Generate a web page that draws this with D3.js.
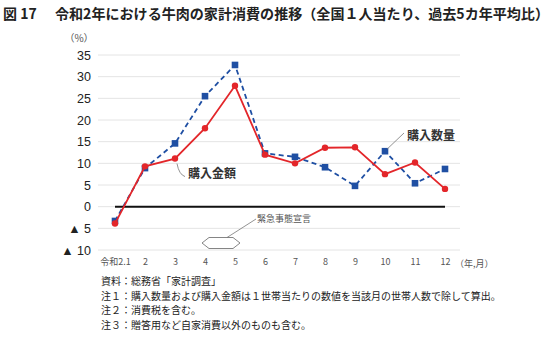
<!DOCTYPE html>
<html>
<head>
<meta charset="utf-8">
<script src="https://cdn.jsdelivr.net/npm/d3@7"></script>
<style>
  html, body { margin: 0; padding: 0; background: #fff; }
  svg { display: block; }
</style>
</head>
<body>
<svg id="chart" width="558" height="337"></svg>
<script>
// 月（令和2年）
const months = ["令和2.1", "2", "3", "4", "5", "6", "7", "8", "9", "10", "11", "12"];
// 購入数量（過去5カ年平均比、%）
const quantity = [-3.3, 8.9, 14.6, 25.5, 32.7, 12.3, 11.5, 9.1, 4.8, 12.8, 5.4, 8.7];
// 購入金額（過去5カ年平均比、%）
const amount = [-3.9, 9.3, 11.1, 18.1, 27.9, 12.0, 10.0, 13.6, 13.7, 7.5, 10.2, 4.1];
// 縦軸の目盛
const yTicks = [-10, -5, 0, 5, 10, 15, 20, 25, 30, 35];
const notes = [
  "資料：総務省「家計調査」",
  "注１：購入数量および購入金額は１世帯当たりの数値を当該月の世帯人数で除して算出。",
  "注２：消費税を含む。",
  "注３：贈答用など自家消費以外のものも含む。"
];

const JP = "'Noto Sans CJK JP', 'Noto Sans', sans-serif";
const NUM = "'Liberation Sans', Arial, sans-serif";
const BLUE = "#1f4fa3";
const RED = "#e3262a";

const svg = d3.select("#chart");

const x = d3.scalePoint().domain(months).range([115, 445]);
const y = d3.scaleLinear().domain([-10, 35]).range([250, 55]);

// タイトル
svg.append("text")
  .attr("x", 3).attr("y", 19)
  .attr("font-family", JP).attr("font-size", 14).attr("font-weight", "bold")
  .attr("fill", "#222")
  .text("図 17");
svg.append("text")
  .attr("x", 55).attr("y", 19)
  .attr("font-family", JP).attr("font-size", 14).attr("font-weight", "bold")
  .attr("fill", "#222")
  .attr("textLength", 494).attr("lengthAdjust", "spacingAndGlyphs")
  .text("令和2年における牛肉の家計消費の推移（全国１人当たり、過去5カ年平均比）");

// 目盛線
svg.append("g").selectAll("line")
  .data(yTicks)
  .join("line")
  .attr("x1", 98).attr("x2", 460)
  .attr("y1", d => y(d)).attr("y2", d => y(d))
  .attr("stroke", "#e4e4e4").attr("stroke-width", 1);

// 縦軸ラベル
const yAxis = d3.axisLeft(y).tickValues(yTicks).tickSize(0).tickPadding(0)
  .tickFormat(d => d < 0 ? "▲ " + (-d) : String(d));
const gy = svg.append("g").attr("transform", "translate(91,0)").call(yAxis);
gy.select(".domain").remove();
gy.selectAll("text")
  .attr("font-family", NUM).attr("font-size", 12.5).attr("fill", "#222");

svg.append("text")
  .attr("x", 79).attr("y", 42)
  .attr("text-anchor", "middle")
  .attr("font-family", JP).attr("font-size", 10).attr("fill", "#555")
  .text("（%）");

// 横軸ラベル
const xAxis = d3.axisBottom(x).tickSize(0).tickPadding(0);
const gx = svg.append("g").attr("transform", "translate(0,259)").call(xAxis);
gx.select(".domain").remove();
gx.selectAll("text")
  .attr("font-family", JP).attr("font-size", 9).attr("fill", "#555");

svg.append("text")
  .attr("x", 455).attr("y", 267)
  .attr("font-family", JP).attr("font-size", 9).attr("fill", "#555")
  .text("（年,月）");

// ゼロ線
svg.append("line")
  .attr("x1", x(months[0])).attr("x2", x(months[months.length - 1]))
  .attr("y1", y(0)).attr("y2", y(0))
  .attr("stroke", "#111").attr("stroke-width", 2);

const line = d3.line().x((d, i) => x(months[i])).y(d => y(d));

// 購入数量（破線・四角）
svg.append("path")
  .datum(quantity)
  .attr("d", line)
  .attr("fill", "none").attr("stroke", BLUE).attr("stroke-width", 1.8)
  .attr("stroke-dasharray", "5,3.5");
svg.append("g").selectAll("rect")
  .data(quantity)
  .join("rect")
  .attr("x", (d, i) => x(months[i]) - 3.3)
  .attr("y", d => y(d) - 3.3)
  .attr("width", 6.6).attr("height", 6.6)
  .attr("fill", BLUE);

// 購入金額（実線・丸）
svg.append("path")
  .datum(amount)
  .attr("d", line)
  .attr("fill", "none").attr("stroke", RED).attr("stroke-width", 1.8);
svg.append("g").selectAll("circle")
  .data(amount)
  .join("circle")
  .attr("cx", (d, i) => x(months[i]))
  .attr("cy", d => y(d))
  .attr("r", 3.2)
  .attr("fill", RED);

// 系列ラベル
svg.append("path")
  .attr("d", `M${x("3") + 2},${y(amount[2]) + 5} Q${x("3") + 4},${y(amount[2]) + 16} ${x("3") + 10},${y(amount[2]) + 18}`)
  .attr("fill", "none").attr("stroke", "#777").attr("stroke-width", 0.8);
svg.append("text")
  .attr("x", 188).attr("y", 178)
  .attr("font-family", JP).attr("font-size", 12).attr("font-weight", "bold")
  .attr("fill", "#333")
  .text("購入金額");

svg.append("line")
  .attr("x1", x("10") + 2).attr("y1", y(quantity[9]) - 2)
  .attr("x2", 404).attr("y2", 133)
  .attr("stroke", "#777").attr("stroke-width", 0.8);
svg.append("text")
  .attr("x", 407).attr("y", 140)
  .attr("font-family", JP).attr("font-size", 12).attr("font-weight", "bold")
  .attr("fill", "#333")
  .text("購入数量");

// 緊急事態宣言（4月〜5月）
const ax0 = x("4") - 3, ax1 = x("5") + 5, ay = 243, ah = 5.5, tip = 7;
svg.append("path")
  .attr("d", `M${ax0},${ay} L${ax0 + tip},${ay - ah} L${ax1 - tip},${ay - ah} L${ax1},${ay} L${ax1 - tip},${ay + ah} L${ax0 + tip},${ay + ah} Z`)
  .attr("fill", "#fff").attr("stroke", "#777").attr("stroke-width", 0.9);
svg.append("line")
  .attr("x1", 227).attr("y1", ay - ah)
  .attr("x2", 256).attr("y2", 219)
  .attr("stroke", "#777").attr("stroke-width", 0.8);
svg.append("text")
  .attr("x", 257).attr("y", 222)
  .attr("font-family", JP).attr("font-size", 9).attr("fill", "#555")
  .text("緊急事態宣言");

// 注記
svg.append("g").selectAll("text")
  .data(notes)
  .join("text")
  .attr("x", 101)
  .attr("y", (d, i) => 285 + i * 14.5)
  .attr("font-family", JP).attr("font-size", 10).attr("fill", "#222")
  .text(d => d);
</script>
</body>
</html>
